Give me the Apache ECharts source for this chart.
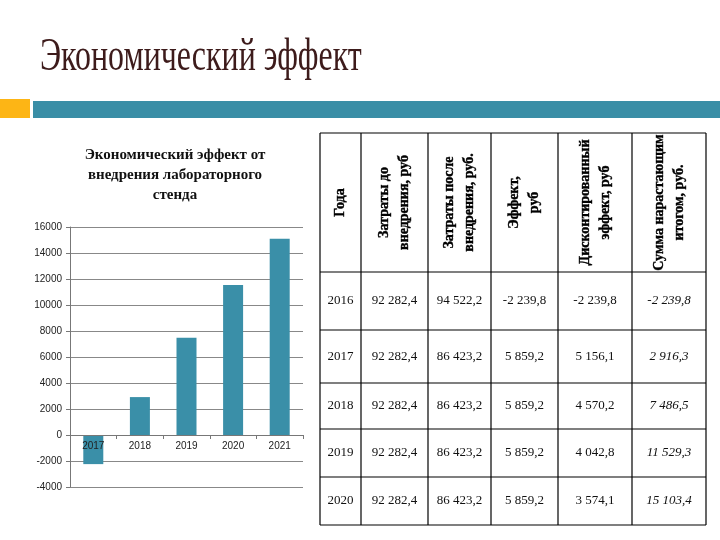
<!DOCTYPE html>
<html>
<head>
<meta charset="utf-8">
<script src="https://cdn.jsdelivr.net/npm/echarts@6/dist/echarts.min.js"></script>
<style>
  html, body { margin: 0; padding: 0; background: #fff; }
  #main { width: 720px; height: 540px; }
</style>
</head>
<body>
<div id="main"></div>
<script>
// данные диаграммы
const chartYears = ['2017', '2018', '2019', '2020', '2021']
const chartValues = [-2239.8, 2916.3, 7486.5, 11529.3, 15103.4]

// данные таблицы
const headers = ['Года', 'Затраты до\nвнедрения, руб', 'Затраты после\nвнедрения, руб.', 'Эффект,\nруб', 'Дисконтированный\nэффект, руб', 'Сумма нарастающим\nитогом, руб.']
const tableYears = ['2016', '2017', '2018', '2019', '2020']
const costBefore = [92282.4, 92282.4, 92282.4, 92282.4, 92282.4]
const costAfter = [94522.2, 86423.2, 86423.2, 86423.2, 86423.2]
const effect = [-2239.8, 5859.2, 5859.2, 5859.2, 5859.2]
const discounted = [-2239.8, 5156.1, 4570.2, 4042.8, 3574.1]
const cumulative = [-2239.8, 2916.3, 7486.5, 11529.3, 15103.4]

// раскладка таблицы
const colX = [320, 361, 428, 491, 558, 632, 706]
const rowY = [133, 272, 330, 383, 429, 477, 525]

function fmt (v) {
  const parts = Math.abs(v).toFixed(1).split('.')
  const int = parts[0].replace(/\B(?=(\d{3})+(?!\d))/g, ' ')
  return (v < 0 ? '-' : '') + int + ',' + parts[1]
}

const chart = echarts.init(document.getElementById('main'))
const serif = '"Liberation Serif", "Times New Roman", serif'

const graphic = [
  { type: 'rect', shape: { x: 0, y: 99, width: 30, height: 19 }, style: { fill: '#FDB515' } },
  { type: 'rect', shape: { x: 33, y: 101, width: 687, height: 17 }, style: { fill: '#3A8EA6' } },
  {
    type: 'text', x: 40, y: 58, scaleX: 0.68, originX: 0,
    style: { legacy: false, text: 'Экономический эффект', fontSize: 47, fontFamily: serif, fill: '#3d1b1b', align: 'left', verticalAlign: 'middle' }
  }
]

// линии таблицы
colX.forEach(x => {
  graphic.push({ type: 'line', shape: { x1: x, y1: rowY[0], x2: x, y2: rowY[rowY.length - 1] }, style: { stroke: '#000', lineWidth: 1.2 } })
})
rowY.forEach(y => {
  graphic.push({ type: 'line', shape: { x1: colX[0], y1: y, x2: colX[colX.length - 1], y2: y }, style: { stroke: '#000', lineWidth: 1.2 } })
})

// заголовки (повернуты)
headers.forEach((h, i) => {
  graphic.push({
    type: 'text',
    x: (colX[i] + colX[i + 1]) / 2,
    y: (rowY[0] + rowY[1]) / 2,
    rotation: Math.PI / 2,
    style: { legacy: false, text: h, fontSize: 14, fontWeight: 'bold', fontFamily: serif, lineHeight: 20, fill: '#000', stroke: '#000', lineWidth: 0.4, align: 'center', verticalAlign: 'middle' }
  })
})

// ячейки
const columns = [tableYears, costBefore.map(fmt), costAfter.map(fmt), effect.map(fmt), discounted.map(fmt), cumulative.map(fmt)]
columns.forEach((col, c) => {
  col.forEach((val, r) => {
    graphic.push({
      type: 'text',
      x: (colX[c] + colX[c + 1]) / 2,
      y: (rowY[r + 1] + rowY[r + 2]) / 2,
      style: { legacy: false, text: val, fontSize: 13, fontStyle: c === 5 ? 'italic' : 'normal', fontFamily: serif, fill: '#111', align: 'center', verticalAlign: 'middle' }
    })
  })
})

const option = {
  animation: false,
  title: {
    text: 'Экономический эффект от\nвнедрения лабораторного\nстенда',
    left: 170,
    top: 140,
    textAlign: 'center',
    textStyle: { fontFamily: serif, fontWeight: 'bold', fontSize: 15, lineHeight: 20, color: '#111' }
  },
  grid: { left: 70, right: 417, top: 227, bottom: 53 },
  xAxis: {
    type: 'category',
    data: chartYears,
    z: 5,
    offset: -52,
    axisLine: { onZero: false, lineStyle: { color: '#777', width: 1 } },
    axisTick: { show: true, length: 4, lineStyle: { color: '#777' } },
    axisLabel: { fontSize: 10, fontFamily: '"Liberation Sans", sans-serif', color: '#222', margin: 6 }
  },
  yAxis: {
    type: 'value',
    min: -4000,
    max: 16000,
    interval: 2000,
    axisLine: { show: true, lineStyle: { color: '#777' } },
    axisTick: { show: true, length: 4, lineStyle: { color: '#777' } },
    axisLabel: { fontSize: 10, fontFamily: '"Liberation Sans", sans-serif', color: '#222', margin: 8, formatter: v => String(v) },
    splitLine: { lineStyle: { color: '#888', width: 1 } }
  },
  series: [
    {
      type: 'bar',
      data: chartValues,
      barWidth: 20,
      itemStyle: { color: '#3A8FA8' }
    }
  ],
  graphic: graphic
}

chart.setOption(option)
</script>
</body>
</html>
